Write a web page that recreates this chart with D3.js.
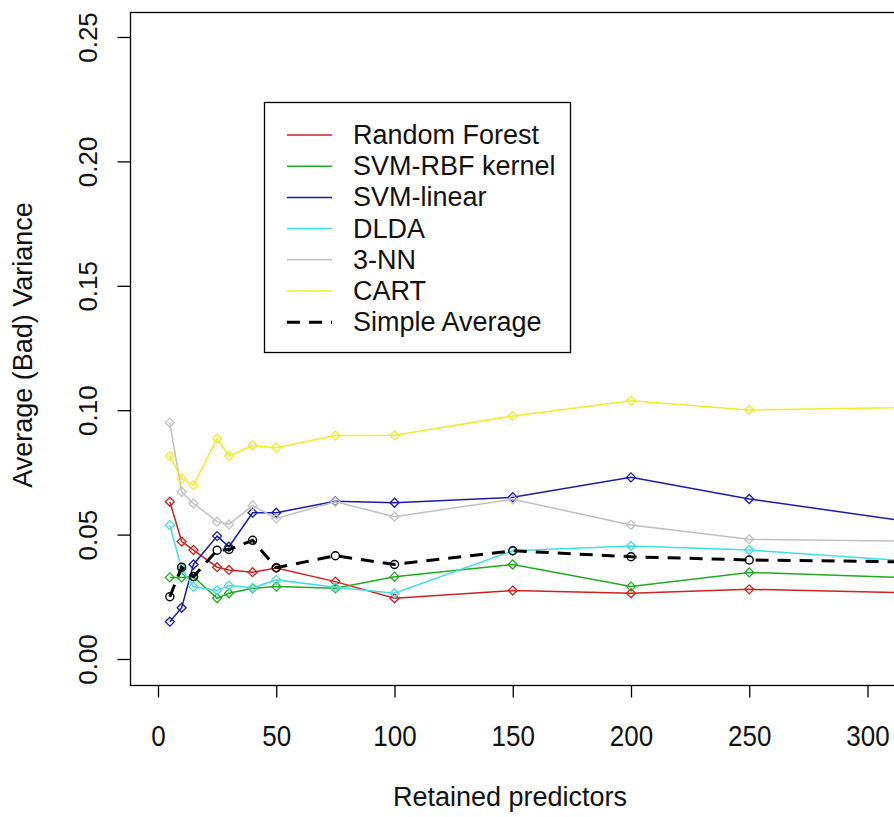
<!DOCTYPE html>
<html>
<head>
<meta charset="utf-8">
<script src="https://cdn.jsdelivr.net/npm/d3@7"></script>
<style>
  body { margin: 0; background: #fff; }
  svg { display: block; font-family: "Liberation Sans", Arial, sans-serif; }
</style>
</head>
<body>
<svg id="chart" width="894" height="817"></svg>
<script>
// retained predictors (x) and average (bad) variance per method
var predictors = [5, 10, 15, 25, 30, 40, 50, 75, 100, 150, 200, 250, 400];
var randomForest = [0.0632, 0.0472, 0.0438, 0.0369, 0.0358, 0.0349, 0.0366, 0.0311, 0.0244, 0.0275, 0.0264, 0.0280, 0.0250];
var svmRbf       = [0.0328, 0.0328, 0.0331, 0.0244, 0.0264, 0.0284, 0.0291, 0.0284, 0.0331, 0.0380, 0.0291, 0.0348, 0.0300];
var svmLinear    = [0.0150, 0.0206, 0.0380, 0.0494, 0.0451, 0.0588, 0.0588, 0.0634, 0.0628, 0.0650, 0.0730, 0.0643, 0.0442];
var dlda         = [0.0538, 0.0362, 0.0290, 0.0276, 0.0295, 0.0286, 0.0318, 0.0288, 0.0264, 0.0435, 0.0454, 0.0438, 0.0340];
var knn3         = [0.0950, 0.0672, 0.0625, 0.0552, 0.0541, 0.0617, 0.0565, 0.0632, 0.0572, 0.0642, 0.0539, 0.0481, 0.0464];
var cart         = [0.0816, 0.0725, 0.0699, 0.0886, 0.0816, 0.0858, 0.0849, 0.0898, 0.0899, 0.0977, 0.1038, 0.1001, 0.1023];
var simpleAvg    = [0.0250, 0.0369, 0.0331, 0.0437, 0.0440, 0.0477, 0.0367, 0.0415, 0.0380, 0.0435, 0.0411, 0.0398, 0.0381];

var seriesNames = ["Random Forest", "SVM-RBF kernel", "SVM-linear", "DLDA", "3-NN", "CART", "Simple Average"];
var xTicks = [0, 50, 100, 150, 200, 250, 300];
var yTicks = [0, 0.05, 0.10, 0.15, 0.20, 0.25];

var series = [
  {name: seriesNames[0], values: randomForest, color: "#cc2222"},
  {name: seriesNames[1], values: svmRbf, color: "#22aa22"},
  {name: seriesNames[2], values: svmLinear, color: "#1c1ca8"},
  {name: seriesNames[3], values: dlda, color: "#3fe0e0"},
  {name: seriesNames[4], values: knn3, color: "#c0c0c0"},
  {name: seriesNames[5], values: cart, color: "#eeee2a"},
  {name: seriesNames[6], values: simpleAvg, color: "#000000", dashed: true}
];

var svg = d3.select("#chart");

var x = d3.scaleLinear().domain([0, 300]).range([158, 867.5]);
var y = d3.scaleLinear().domain([0, 0.25]).range([659, 37]);

var boxLeft = 130, boxTop = 12, boxBottom = 685, boxRight = 1000;

// plot frame (runs off the right edge like the original)
svg.append("rect")
  .attr("x", boxLeft + 0.5).attr("y", boxTop + 0.5)
  .attr("width", boxRight - boxLeft).attr("height", boxBottom - boxTop)
  .attr("fill", "none").attr("stroke", "#000").attr("stroke-width", 1.3);

// y axis
var yAxis = svg.append("g").attr("transform", "translate(" + (boxLeft + 0.5) + ",0)")
  .call(d3.axisLeft(y).tickValues(yTicks).tickSize(13).tickFormat(d3.format(".2f")));
yAxis.select(".domain").remove();
yAxis.selectAll(".tick line").attr("stroke", "#000").attr("stroke-width", 1.3);
yAxis.selectAll(".tick text")
  .attr("x", null).attr("dy", null)
  .attr("transform", "translate(-34,0) rotate(-90)")
  .attr("text-anchor", "middle")
  .attr("font-size", 26).attr("font-family", "Liberation Sans, Arial, sans-serif")
  .attr("fill", "#111");

// x axis
var xAxis = svg.append("g").attr("transform", "translate(0," + (boxBottom + 0.5) + ")")
  .call(d3.axisBottom(x).tickValues(xTicks).tickSize(12).tickFormat(d3.format("d")));
xAxis.select(".domain").remove();
xAxis.selectAll(".tick line").attr("stroke", "#000").attr("stroke-width", 1.3);
xAxis.selectAll(".tick text")
  .attr("y", null).attr("dy", null)
  .attr("transform", "translate(0,60) scale(1,1.12)")
  .attr("font-size", 26).attr("font-family", "Liberation Sans, Arial, sans-serif")
  .attr("fill", "#111");

// axis titles
svg.append("text")
  .attr("x", 510).attr("y", 806)
  .attr("text-anchor", "middle")
  .attr("font-size", 27).attr("fill", "#111")
  .text("Retained predictors");

svg.append("text")
  .attr("transform", "translate(32,345) rotate(-90)")
  .attr("text-anchor", "middle")
  .attr("font-size", 27).attr("fill", "#111")
  .text("Average (Bad) Variance");

// lines and markers
var line = d3.line()
  .x(function(d, i) { return x(predictors[i]); })
  .y(function(d) { return y(d); });

var plot = svg.append("g");
series.forEach(function(s) {
  plot.append("path")
    .attr("d", line(s.values))
    .attr("fill", "none")
    .attr("stroke", s.color)
    .attr("stroke-width", s.dashed ? 3 : 1.5)
    .attr("stroke-dasharray", s.dashed ? "13,9" : null);

  var pts = plot.selectAll(null).data(s.values).enter();
  if (s.dashed) {
    pts.append("circle")
      .attr("cx", function(d, i) { return x(predictors[i]); })
      .attr("cy", function(d) { return y(d); })
      .attr("r", 4)
      .attr("fill", "none").attr("stroke", s.color).attr("stroke-width", 1.4);
  } else {
    pts.append("path")
      .attr("d", function(d, i) {
        var cx = x(predictors[i]), cy = y(d), r = 4.5;
        return "M" + cx + "," + (cy - r) + "L" + (cx + r) + "," + cy +
               "L" + cx + "," + (cy + r) + "L" + (cx - r) + "," + cy + "Z";
      })
      .attr("fill", "none").attr("stroke", s.color).attr("stroke-width", 1.3);
  }
});

// legend
var legend = svg.append("g");
legend.append("rect")
  .attr("x", 264.5).attr("y", 102.5).attr("width", 306).attr("height", 250)
  .attr("fill", "#fff").attr("stroke", "#000").attr("stroke-width", 1.3);

series.forEach(function(s, i) {
  var ly = 135 + i * 31.2;
  legend.append("line")
    .attr("x1", 287).attr("x2", 332).attr("y1", ly).attr("y2", ly)
    .attr("stroke", s.color)
    .attr("stroke-width", s.dashed ? 3 : 1.5)
    .attr("stroke-dasharray", s.dashed ? "13,9" : null);
  legend.append("text")
    .attr("x", 353).attr("y", ly + 9)
    .attr("font-size", 27).attr("fill", "#111")
    .text(s.name);
});
</script>
</body>
</html>
